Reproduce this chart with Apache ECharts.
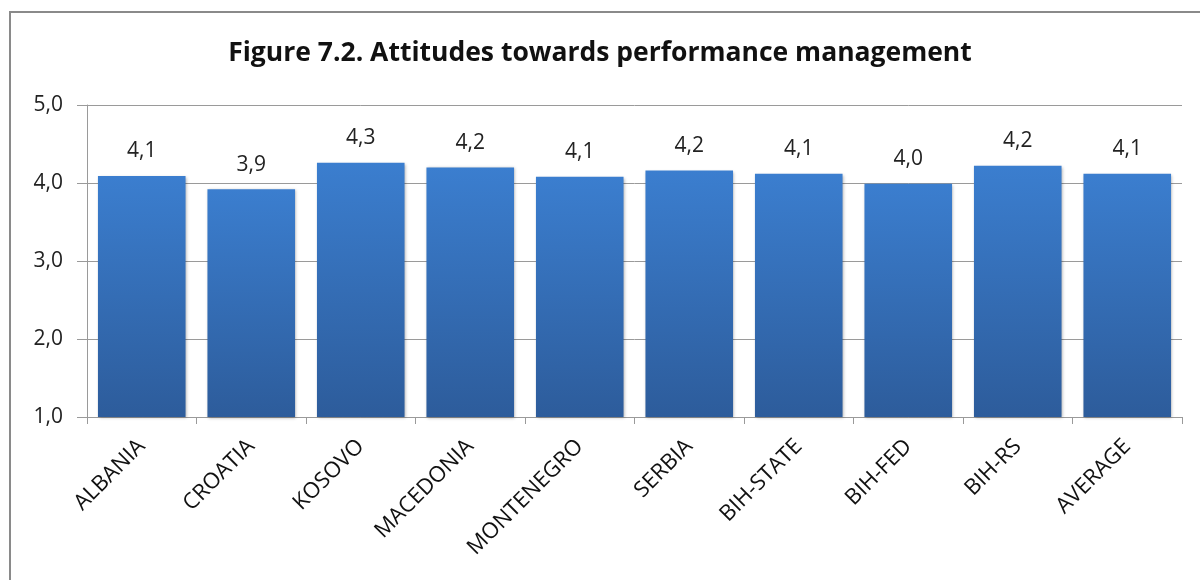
<!DOCTYPE html>
<html>
<head>
<meta charset="utf-8">
<script src="https://cdn.jsdelivr.net/npm/echarts@6/dist/echarts.min.js"></script>
<style>
  html, body { margin: 0; padding: 0; background: #fff; }
  #chart { width: 1200px; height: 580px; }
</style>
</head>
<body>
<div id="chart"></div>
<script>
const titleText = 'Figure 7.2. Attitudes towards performance management'
const categories = ['ALBANIA', 'CROATIA', 'KOSOVO', 'MACEDONIA', 'MONTENEGRO', 'SERBIA', 'BIH-STATE', 'BIH-FED', 'BIH-RS', 'AVERAGE']
const scores = [4.09, 3.92, 4.26, 4.20, 4.08, 4.16, 4.12, 3.99, 4.22, 4.12]
const yTicks = [1, 2, 3, 4, 5]

const fmt = v => v.toFixed(1).replace('.', ',')
const font = '"Open Sans", "Noto Sans", sans-serif'

const chart = echarts.init(document.getElementById('chart'))
chart.setOption({
  backgroundColor: '#fff',
  animation: false,
  textStyle: { fontFamily: font },
  graphic: [{
    type: 'rect',
    shape: { x: 10, y: 12, width: 1200, height: 600 },
    style: { fill: 'none', stroke: '#8a8a8a', lineWidth: 2 },
    silent: true
  }],
  title: {
    text: titleText,
    left: 'center',
    top: 35,
    textStyle: { fontSize: 26.5, fontWeight: 'bold', color: '#111', fontFamily: font }
  },
  grid: { left: 87, right: 18, top: 105, bottom: 163 },
  xAxis: {
    type: 'category',
    data: categories,
    axisLine: { lineStyle: { color: '#9a9a9a', width: 1 } },
    axisTick: { show: true, length: 7, lineStyle: { color: '#9a9a9a' } },
    axisLabel: { rotate: 45, margin: 26, fontSize: 22, color: '#111', fontFamily: font }
  },
  yAxis: {
    type: 'value',
    min: yTicks[0],
    max: yTicks[yTicks.length - 1],
    interval: 1,
    axisLine: { show: true, lineStyle: { color: '#9a9a9a' } },
    axisTick: { show: true, length: 10, lineStyle: { color: '#9a9a9a' } },
    splitLine: { lineStyle: { color: '#9a9a9a', width: 1 } },
    axisLabel: { formatter: fmt, fontSize: 21, color: '#222', margin: 24, fontFamily: font }
  },
  series: [{
    type: 'bar',
    data: scores,
    barCategoryGap: '20%',
    itemStyle: {
      color: new echarts.graphic.LinearGradient(0, 0, 0, 1, [
        { offset: 0, color: '#3b7ecf' },
        { offset: 1, color: '#2d5c9b' }
      ]),
      shadowColor: 'rgba(0,0,0,0.3)',
      shadowBlur: 3,
      shadowOffsetX: 1,
      shadowOffsetY: 1
    },
    label: {
      show: true,
      position: 'top',
      distance: 14,
      formatter: p => fmt(p.value),
      fontSize: 21,
      color: '#222',
      fontFamily: font
    }
  }]
})
</script>
</body>
</html>
